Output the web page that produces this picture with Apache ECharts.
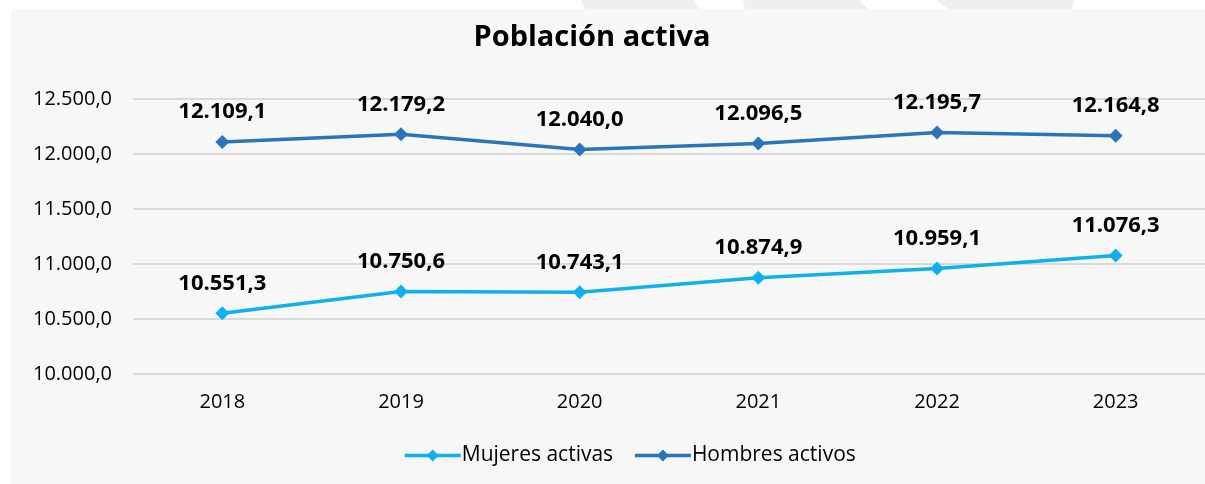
<!DOCTYPE html>
<html>
<head>
<meta charset="utf-8">
<script src="https://cdn.jsdelivr.net/npm/echarts@6/dist/echarts.min.js"></script>
<style>
  html, body { margin: 0; padding: 0; background: #fff; }
  #chart { width: 1205px; height: 484px; }
</style>
</head>
<body>
<div id="chart"></div>
<script>
// datos
const years = ['2018', '2019', '2020', '2021', '2022', '2023'];
const mujeres = [10551.3, 10750.6, 10743.1, 10874.9, 10959.1, 11076.3];
const hombres = [12109.1, 12179.2, 12040.0, 12096.5, 12195.7, 12164.8];

// 12345.6 -> "12.345,6"
function fmt(v) {
  const parts = Number(v).toFixed(1).split('.');
  return parts[0].replace(/\B(?=(\d{3})+(?!\d))/g, '.') + ',' + parts[1];
}

const font = '"Open Sans", "Noto Sans", sans-serif';
const chart = echarts.init(document.getElementById('chart'));

const option = {
  backgroundColor: '#fff',
  graphic: [
    { type: 'rect', z: -10, shape: { x: 11, y: 9, width: 1194, height: 475 }, style: { fill: '#f7f7f7' } },
    { type: 'polygon', z: -10, shape: { points: [[581, 0], [694, 0], [698, 9], [585, 9]] }, style: { fill: '#efefef' } },
    { type: 'polygon', z: -10, shape: { points: [[743, 0], [860, 0], [867, 9], [745, 9]] }, style: { fill: '#efefef' } },
    { type: 'polygon', z: -10, shape: { points: [[937, 0], [1074, 0], [1072, 9], [948, 9]] }, style: { fill: '#efefef' } }
  ],
  title: {
    text: 'Población activa',
    left: 587,
    textAlign: 'center',
    top: 18,
    textStyle: { fontFamily: font, fontSize: 29, fontWeight: 'bold', color: '#000' }
  },
  legend: {
    data: ['Mujeres activas', 'Hombres activos'],
    left: 398,
    top: 440,
    itemWidth: 56,
    itemHeight: 15,
    itemGap: 20,
    lineStyle: { width: 3.5 },
    textStyle: { fontFamily: font, fontSize: 21, color: '#000', padding: [0, 0, 0, -4] }
  },
  grid: { left: 133, right: 0, top: 99, height: 275 },
  xAxis: {
    type: 'category',
    data: years,
    axisLine: { show: false },
    axisTick: { show: false },
    axisLabel: { fontFamily: font, fontSize: 20, color: '#000', margin: 18 }
  },
  yAxis: {
    type: 'value',
    min: 10000,
    max: 12500,
    interval: 500,
    axisLine: { show: false },
    axisTick: { show: false },
    splitLine: { lineStyle: { color: '#d9d9d9', width: 2 } },
    axisLabel: { fontFamily: font, fontSize: 20, color: '#000', margin: 21, formatter: fmt }
  },
  series: [
    {
      name: 'Mujeres activas',
      type: 'line',
      data: mujeres,
      color: '#0fb0ee',
      symbol: 'diamond',
      symbolSize: 14,
      lineStyle: { width: 3.5 },
      label: {
        show: true, position: 'top', distance: 12,
        fontFamily: font, fontSize: 22, fontWeight: 'bold', color: '#000',
        formatter: (p) => fmt(p.value)
      }
    },
    {
      name: 'Hombres activos',
      type: 'line',
      data: hombres,
      color: '#2a74bb',
      symbol: 'diamond',
      symbolSize: 14,
      lineStyle: { width: 3.5 },
      label: {
        show: true, position: 'top', distance: 12,
        fontFamily: font, fontSize: 22, fontWeight: 'bold', color: '#000',
        formatter: (p) => fmt(p.value)
      }
    }
  ]
};

chart.setOption(option);
</script>
</body>
</html>
